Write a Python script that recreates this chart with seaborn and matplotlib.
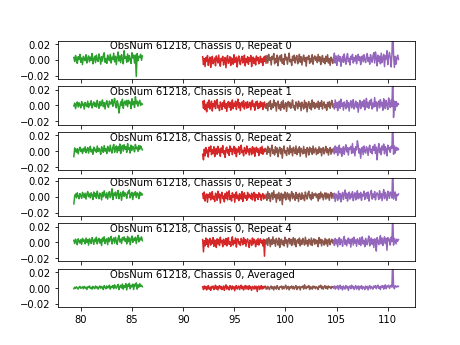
import numpy as np
import matplotlib
matplotlib.use("Agg")
import matplotlib.pyplot as plt
import seaborn as sns

obsnum = 61218
chassis = 0
panel_labels = ["Repeat 0", "Repeat 1", "Repeat 2", "Repeat 3", "Repeat 4", "Averaged"]

# frequency span of each spectral band (GHz)
green_span = (79.3, 86.0)
red_span = (91.9, 98.1)
brown_span = (98.1, 104.7)
purple_span = (104.7, 111.05)

# spectra, in units of 1e-4
green_r0 = [30, -20, 55, 10, -45, 40, 5, 70, -30, 25, -60, 45, 15, -10, 65, -40, 20, 50, -25, 35,
            -5, 80, -50, 10, 45, -35, 60, 0, -20, 75, 25, -55, 40, -15, 55, 90, -30, 15, -45, 60,
            20, -10, 70, -40, 35, 5, 85, -25, 45, -60, 30, 100, -15, 50, -35, 65, 10, -50, 115, 20,
            40, -30, 75, -20, 55, 5, -45, 90, 25, 60, -40, 60, -210, 80, -10, 45, 30, 70, -5, 50]
red_r0 = [40, -60, 15, -85, 30, -20, 55, -70, -5, 35, -95, 10, 45, -50, -15, 25, -75, 50, 5, -40,
          60, -30, -80, 20, -10, 45, -65, 0, 30, -100, 15, 55, -45, -20, 40, -70, 25, 5, -55, 65,
          -35, -5, 35, -90, 10, 50, -25, -60, 20, 45, -40, 0, 60, -75, 15, -30, 40, -55, 25, -15,
          55, -85, 5, 35, -45, 20, -65, 50, -10, 30, -50, 0, 45, -35, 15, -70, 35, -20, 50, -40]
brown_r0 = [-20, 55, -40, 70, -5, 30, -65, 45, 10, 80, -50, 20, -30, 60, -75, 25, 50, -15, 65, -45,
            15, -60, 75, 0, 35, -55, 20, 85, -25, 5, -70, 45, -10, 60, -40, 25, 55, -50, 0, 70,
            -30, 40, -65, 15, 60, -20, 30, -80, 35, 10, 55, -45, 20, -25, 65, -55, 25, 50, -5, 35,
            -35, 70, -15, 40, -60, 10, 55, -30, 20, -50, 45, -20, 65, -40, 15, -70, 35, 5, -45, 25]
purple_r0 = [10, 85, -40, 50, -70, 25, 60, -20, 40, -80, 5, 45, -30, 75, -5, -55, 35, 80, -25, 20,
             -65, 45, 10, 70, -40, 30, -15, 55, -50, 25, 70, -10, 40, -60, 15, 50, -25, 65, 0, -35,
             45, 80, -20, 30, -55, 65, 10, -30, 55, 90, -40, 100, 30, -75, 60, -20, 45, -50, 85, -35,
             20, 70, -85, 50, 10, 115, -60, 40, 95, 30, -90, 65, 450, 70, -95, 45, -55, 25, 60, 5]

green_r1 = [-5, 30, -40, 15, 45, -20, 35, 5, -30, 50, 0, 20, -45, 40, 10, -15, 55, -25, 25, 5,
            60, -30, 15, 45, -10, 30, -20, 65, 10, -35, 50, -5, 25, 70, -15, 35, -45, 30, 60, 0,
            -25, 55, 20, 20, 75, -10, 40, 90, 5, -30, 60, 20, -95, -20, 45, 0, 80, -35, 35, 55,
            5, 65, -15, 65, 25, 45, -40, 85, 10, 50, -25, 110, 20, 55, -10, 40, 65, 0, 30, 15]
red_r1 = [50, -35, 65, -55, 15, -80, 40, -25, 70, -45, 5, 55, -70, 25, -15, 60, -40, 30, 75, -30,
          0, -65, 45, 20, -50, 35, -10, 65, -35, 25, -75, 15, 50, -25, 40, -60, 5, 70, -40, 30,
          -10, 55, -50, 20, 80, -30, 35, -65, 25, 45, -20, 60, -45, 15, 40, -35, 50, -25, 10, 40,
          -55, 30, 65, -15, 20, -60, 45, -5, 55, -40, 25, -30, 50, -10, 35, -50, 20, 45, -25, 10]
brown_r1 = [-35, 25, -65, 40, -10, 60, -50, 20, -30, 70, -5, 35, -70, 30, 55, -40, 15, -60, 45, -25,
            65, -45, 5, 35, -75, 25, 50, -20, 40, -35, 15, 70, -30, 0, -60, 45, 20, -40, 55, -10,
            30, -65, 40, 5, -45, 65, -25, 35, -80, 20, 50, -35, 25, -55, 70, -20, 40, -40, 15, 30,
            -25, 55, -50, 35, -10, 60, -45, 20, 45, -30, 10, -60, 40, -15, 50, -35, 25, 65, -20, 5]
purple_r1 = [20, -45, 70, -25, 40, -65, 15, 55, -35, 80, -10, 30, -60, 45, 5, -40, 65, -20, 35, -70,
             25, 60, -30, 20, 75, -45, 0, 55, -25, 35, -85, 15, 65, -40, 30, 50, -15, 70, -55, 25,
             90, -25, 40, -35, 60, 5, 80, -45, 30, -20, 100, -10, 45, -70, 35, 55, -30, 75, -5, 40,
             -60, 85, 20, -40, 65, 10, -50, 95, 30, -25, 70, -15, 380, -150, 55, -60, 50, -10, 30, 15]

green_r2 = [-70, 40, 5, -15, 30, -35, 20, 50, -5, 25, -30, 35, 0, 55, -20, 15, 45, -25, 30, 60,
            -10, 20, -40, 50, 5, 25, -15, 65, -5, 35, 10, -40, 55, 20, -15, 70, 0, 30, -30, 60,
            25, -5, 75, 10, -25, 50, 85, -15, 35, 65, -20, 55, 5, 90, -30, 40, 70, 0, 80, 25,
            55, -15, 95, 20, 45, -25, 75, 10, 60, 35, -10, 85, 30, 50, -5, 70, 20, 65, 40, 15]
red_r2 = [-40, -110, 25, -60, 45, -25, 15, -75, 50, -5, 65, -45, 20, -30, 55, -70, 10, 35, -40, 60,
          -20, 25, -65, 40, -15, 70, -35, 5, -80, 30, 50, -25, 20, -55, 65, -5, 35, -45, 15, 60,
          -30, 40, -70, 25, -10, 55, -40, 30, 75, -20, 10, -60, 45, 20, -35, 65, -10, 25, -50, 35,
          15, -45, 55, -25, 40, -65, 20, 50, -15, 30, -55, 5, 45, -30, 60, -40, 25, -10, 35, 0]
brown_r2 = [20, -40, 60, -15, 35, -65, 25, 75, -30, 15, -50, 55, -20, 40, -70, 10, 50, -35, 30, -90,
            20, 65, -25, 5, -55, 45, 15, -40, 70, -20, 30, -60, 50, 10, -30, 65, -45, 25, -15, 55,
            -65, 35, 5, -35, 60, -25, 20, -75, 45, 25, -50, 50, -10, 30, -40, 65, -25, 15, 40, -45,
            20, -30, 55, -15, 35, -60, 25, 45, -35, 10, 60, -20, 30, -50, 15, 45, -40, 25, -10, 35]
purple_r2 = [25, -35, 65, -15, 50, -55, 20, 75, -25, 35, -65, 15, 55, -40, 30, 80, -10, 45, -50, 40,
             25, 60, -30, 95, -20, 35, -60, 55, 15, 130, 70, -25, 30, -90, 20, 50, -45, 65, 0, -25,
             55, 30, -55, 40, 75, -15, 25, -35, 60, 10, 85, -30, 50, -110, 20, 95, -20, 40, -45, 65,
             15, 90, -35, 55, 25, -60, 75, 20, 45, -15, 60, 35, 420, -40, 65, -25, 50, 10, 40, 20]

green_r3 = [-90, 10, 35, -15, 50, 5, -25, 40, 15, -20, 55, 25, -10, 45, -30, 30, 65, 0, 35, -15,
            50, 20, -35, 60, 5, 40, -20, 70, 15, -25, 45, 30, -40, 55, 0, 75, 20, -15, 50, -30,
            35, 65, -10, 25, 100, -35, 45, 15, 60, -20, 40, 80, -25, 30, 55, -45, 35, 70, 5, 50,
            25, -20, 60, 40, 85, -15, 30, 55, -35, 45, 20, 65, -10, 50, 35, -25, 60, 15, 45, 25]
red_r3 = [40, -25, 60, -55, 15, 35, -70, 30, -10, 50, -40, 20, 65, -30, 5, -60, 45, 25, -45, 70,
          -15, 35, -80, 20, 55, -25, 10, -65, 40, -20, 60, -40, 25, 75, -35, 15, -55, 50, -5, 30,
          -70, 35, 60, -25, 20, -50, 40, 5, -30, 65, -60, 25, 50, -20, 15, -45, 55, -15, 30, 10,
          -25, 45, -40, 20, 55, -55, 35, -10, 25, -35, 50, -5, 30, -45, 15, 40, -30, 20, 5, -20]
brown_r3 = [30, -45, 65, -20, 40, -60, 15, 50, -35, 75, -10, 25, -70, 35, -25, 55, -50, 20, 45, -100,
            30, -15, 60, -40, 10, 50, -30, 35, -55, 20, 65, -25, 40, 5, -45, 55, -20, 30, -60, 45,
            15, -35, 50, -25, 20, -50, 60, 10, -30, 40, 70, -15, 25, -40, 55, -20, 35, 15, 45, -10,
            30, -55, 40, -25, 60, -5, 35, -40, 20, 50, -30, 45, -15, 35, -45, 25, 55, -20, 40, 10]
purple_r3 = [-15, 45, -60, 35, 10, -45, 70, -25, 40, -65, 20, 55, -35, 30, 85, -20, 45, -55, 15, 60,
             -30, 35, -10, 65, -50, 25, 50, -40, 20, 75, -25, 40, -15, 55, -45, 30, 10, 70, -35, 25,
             50, -20, 60, -55, 15, 45, 80, -30, 35, -10, 65, -40, 25, 50, 20, -35, 75, -15, 40, -50,
             30, 90, -25, 55, 10, -45, 70, 35, -20, 60, 40, -15, 380, -30, 45, 60, -45, 30, 15, 35]

green_r4 = [25, -15, 40, 5, -30, 45, 20, -10, 35, -25, 50, 15, 30, -20, 55, 0, 35, -35, 45, 20,
            -15, 60, 25, -25, 40, 10, 65, -20, 30, 50, -10, 35, -40, 55, 15, 70, -15, 30, 45, -30,
            60, 10, 40, 75, -20, 35, 55, -10, 65, 20, -25, 50, 85, 5, 40, -15, 60, 30, 70, 15,
            45, -20, 75, 10, 55, -30, 40, 80, 0, 50, 25, 65, -15, 45, 90, 5, 55, 30, 70, 20]
red_r4 = [35, -120, 20, -45, 55, -25, 40, -60, 15, 50, -35, 25, -15, 60, -50, 30, 5, -65, 45, -20,
          35, -40, 65, -5, 25, -55, 40, 15, -30, 50, -45, 20, 60, -25, 5, -50, 35, 70, -35, 25,
          -15, 55, -60, 30, 45, -20, 10, -40, 50, 20, -30, 60, -15, 35, -50, 25, 45, -10, -65, 30,
          15, -40, 55, -20, 40, 5, -55, 30, -25, 50, -35, 20, 45, -10, 25, -45, 40, -175, 30, 10]
brown_r4 = [-20, 45, -40, 60, 15, -55, 35, -25, 70, -15, 30, -50, 50, 10, -35, 55, -65, 25, 40, -30,
            20, -45, 65, -10, 35, -60, 25, 50, -20, 40, -40, 15, 60, -30, 45, -55, 20, 35, -15, 55,
            -45, 30, -25, 50, 10, -35, 65, -20, 25, -50, 40, 15, -30, 55, -40, 20, 45, -25, 35, -15,
            25, -55, 60, -10, 40, -45, 30, 5, -35, 50, -20, 35, -50, 20, 45, -30, 15, 40, -10, 25]
purple_r4 = [15, -40, 50, -20, 35, -55, 25, 60, -30, 40, 10, -50, 45, 75, -25, 30, -45, 20, 55, -15,
             40, -60, 25, 50, -35, 65, -10, 30, -50, 45, 15, -25, 60, -40, 35, 70, -20, 25, -55, 50,
             -5, -30, 40, 80, -45, 20, 55, -25, 35, -65, 45, 25, -110, 60, 15, -30, 40, 85, -20, 55,
             -40, 30, 70, -15, 50, -100, 60, 20, 40, -35, 65, 10, 360, -35, 50, 30, -20, 40, 15, 35]

green_av = [-10, 10, -5, 15, 0, -15, 10, 20, -5, 5, 15, -10, 20, 0, 10, -20, 15, 5, 25, -5,
            10, -15, 20, 5, -10, 25, 0, 15, -15, 10, 25, -5, 20, 5, -20, 30, 10, -10, 25, 0,
            15, 35, -15, 20, 5, 30, -10, 40, 10, -5, 25, 45, -20, 15, 35, 0, 50, -15, 30, 10,
            55, -25, 40, 20, 60, -10, 35, 15, 50, -20, 45, 25, 65, -15, 40, 10, 55, 20, 35, 15]
red_av = [15, -20, 25, -10, 20, -25, 5, 30, -15, 10, -30, 20, 0, 25, -20, 10, 35, -15, 20, -25,
          15, 30, -10, 20, -20, 5, 25, -30, 15, 40, -15, 20, 0, -25, 30, 10, -20, 25, -10, 15,
          -35, 20, 30, -15, 10, 25, -20, 15, 35, -10, 20, -25, 10, 30, -15, 25, 5, -20, 30, -10,
          15, -30, 20, 10, -15, 25, -10, 20, -45, 15, 25, -20, 10, 30, -15, 20, -5, 15, 25, -10]
brown_av = [10, -15, 20, 0, -20, 15, 25, -10, 15, -25, 20, 5, -15, 30, 0, -20, 15, 10, 25, -15,
            20, -10, 15, 35, -15, 10, 20, -25, 15, 0, 25, -10, 20, -15, 10, 30, -20, 15, 0, 20,
            -25, 15, 10, 25, -15, 40, 10, -10, 20, 5, 30, -20, 15, 10, -15, 25, 0, 20, -10, 15,
            5, -20, 25, 10, 35, -10, 20, -15, 15, 30, -5, 20, -15, 25, 5, 15, -10, 20, 10, 0]
purple_av = [10, 25, -15, 20, 0, 30, -20, 15, 35, -10, 20, -25, 25, 5, -15, 30, 0, 20, -30, 15,
             25, -10, 35, 0, 20, -20, 15, 30, -15, 10, 25, -25, 20, 0, 30, -15, 15, 10, -20, 25,
             0, 20, -25, 15, 30, -10, 20, 5, -15, 25, 10, 30, -10, 20, 35, -5, 15, -20, 25, 10,
             30, -15, 20, 40, -10, 25, 15, 35, -5, 20, 35, 10, 400, 15, -10, 30, 20, 10, 25, 20]

panels = [
    (green_r0, red_r0, brown_r0, purple_r0),
    (green_r1, red_r1, brown_r1, purple_r1),
    (green_r2, red_r2, brown_r2, purple_r2),
    (green_r3, red_r3, brown_r3, purple_r3),
    (green_r4, red_r4, brown_r4, purple_r4),
    (green_av, red_av, brown_av, purple_av),
]
spans = [green_span, red_span, brown_span, purple_span]
colors = ["tab:green", "tab:red", "tab:brown", "tab:purple"]

fig, axes = plt.subplots(6, 1, sharex=True, figsize=(6.4, 4.8), dpi=72)

for ax, label, bands in zip(axes, panel_labels, panels):
    for values, (lo, hi), color in zip(bands, spans, colors):
        freq = np.linspace(lo, hi, len(values))
        spec = np.asarray(values) * 1e-4
        sns.lineplot(x=freq, y=spec, ax=ax, color=color, linewidth=1.5,
                     estimator=None, sort=False)
    ax.set_ylim(-0.024, 0.024)
    ax.set_yticks([-0.02, 0.0, 0.02])
    ax.set_ylabel("")
    ax.text(0.1466, 1.0, f"ObsNum {obsnum}, Chassis {chassis}, {label}",
            transform=ax.transAxes, ha="left", va="top", fontsize=10)

fig.savefig("out.png", dpi=72)
